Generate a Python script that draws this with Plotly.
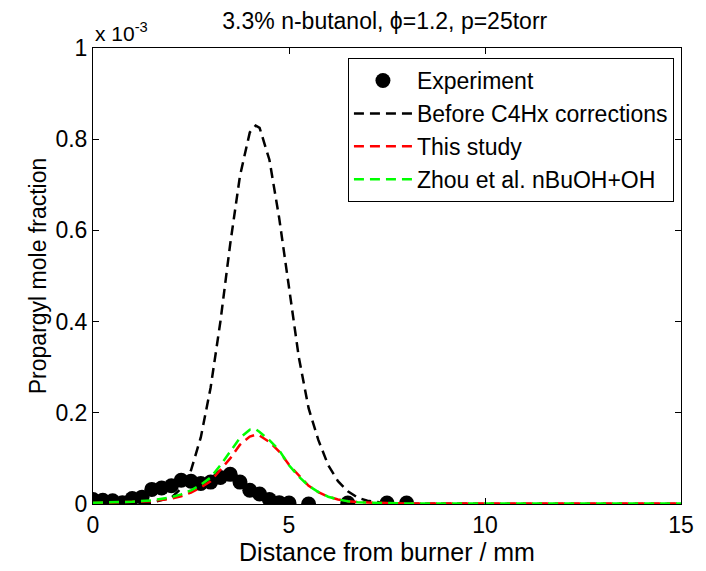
import plotly.graph_objects as go

# Experimental data (distance in mm, mole fraction in units of 1e-3)
exp_x = [0, 0.25, 0.5, 0.75, 1.0, 1.25, 1.5, 1.75, 2.0, 2.25, 2.5, 2.75, 3.0, 3.25,
         3.5, 3.75, 4.0, 4.25, 4.5, 4.75, 5.0, 5.5, 6.5, 7.5, 8.0]
exp_y = [0.010, 0.008, 0.007, 0.003, 0.012, 0.015, 0.032, 0.035, 0.040, 0.052, 0.050,
         0.045, 0.048, 0.058, 0.065, 0.048, 0.030, 0.022, 0.010, 0.003, 0.002, 0.0,
         0.002, 0.002, 0.002]

# Model curves
mod_x = [0, 0.5, 1.0, 1.5, 2.0, 2.25, 2.5, 2.75, 3.0, 3.25, 3.5, 3.75, 4.0, 4.15,
         4.25, 4.5, 4.75, 5.0, 5.25, 5.5, 5.75, 6.0, 6.25, 6.5, 6.75, 7.0, 7.5,
         8.0, 9.0, 10.0, 11.0, 12.0, 13.0, 14.0, 15.0]
before_y = [0.0, 0.0, 0.0005, 0.003, 0.014, 0.034, 0.074, 0.146, 0.255, 0.40, 0.57,
            0.72, 0.815, 0.83, 0.825, 0.755, 0.627, 0.475, 0.322, 0.21, 0.14, 0.085,
            0.05, 0.028, 0.014, 0.007, 0.002, 0.0005, 0.0, 0.0, 0.0, 0.0, 0.0, 0.0, 0.0]
study_y = [0.002, 0.003, 0.004, 0.006, 0.012, 0.017, 0.025, 0.036, 0.050, 0.074,
           0.100, 0.130, 0.148, 0.152, 0.150, 0.136, 0.115, 0.086, 0.062, 0.040,
           0.026, 0.016, 0.010, 0.006, 0.004, 0.003, 0.002, 0.001, 0.001, 0.001,
           0.001, 0.001, 0.001, 0.001, 0.001]
zhou_y = [0.003, 0.004, 0.005, 0.008, 0.015, 0.021, 0.030, 0.042, 0.058, 0.085,
          0.115, 0.145, 0.163, 0.164, 0.158, 0.140, 0.118, 0.085, 0.060, 0.040,
          0.026, 0.016, 0.010, 0.006, 0.004, 0.003, 0.002, 0.001, 0.001, 0.001,
          0.001, 0.001, 0.001, 0.001, 0.001]

x_ticks = [0, 5, 10, 15]
y_ticks = [0, 0.2, 0.4, 0.6, 0.8, 1]
y_ticktext = ["0", "0.2", "0.4", "0.6", "0.8", "1"]

FONT = "Liberation Sans, Arial, sans-serif"
DASH = "10px,6px"

fig = go.Figure()
fig.add_trace(go.Scatter(x=exp_x, y=exp_y, mode="markers", name="Experiment",
                         marker=dict(color="black", size=15, symbol="circle")))
fig.add_trace(go.Scatter(x=mod_x, y=before_y, mode="lines", name="Before C4Hx corrections",
                         line=dict(color="black", width=2.5, dash=DASH)))
fig.add_trace(go.Scatter(x=mod_x, y=study_y, mode="lines", name="This study",
                         line=dict(color="red", width=2.5, dash=DASH)))
fig.add_trace(go.Scatter(x=mod_x, y=zhou_y, mode="lines", name="Zhou et al. nBuOH+OH",
                         line=dict(color="#00ff00", width=2.5, dash=DASH)))

axis_common = dict(showline=True, linecolor="black", linewidth=1, mirror="ticks",
                   ticks="inside", ticklen=6, tickcolor="black", showgrid=False,
                   zeroline=False, tickfont=dict(family=FONT, size=23, color="black"))

fig.update_layout(
    width=706, height=571,
    margin=dict(l=93, r=22, t=48, b=59),
    paper_bgcolor="white", plot_bgcolor="white",
    font=dict(family=FONT, color="black"),
    title=dict(text="3.3% n-butanol, \u03d5=1.2, p=25torr", x=0.545,
               xanchor="center", y=1 - 21 / 571, yanchor="middle",
               font=dict(family=FONT, size=23, color="black")),
    xaxis=dict(range=[0, 15], tickvals=x_ticks, ticktext=[str(v) for v in x_ticks],
               title=dict(text="Distance from burner / mm",
                          font=dict(family=FONT, size=25, color="black"), standoff=4),
               **axis_common),
    yaxis=dict(range=[0, 1], tickvals=y_ticks, ticktext=y_ticktext,
               title=dict(text="Propargyl mole fraction",
                          font=dict(family=FONT, size=23, color="black"), standoff=2),
               **axis_common),
    legend=dict(x=0.988, y=0.978, xanchor="right", yanchor="top",
                bgcolor="white", bordercolor="black", borderwidth=1,
                font=dict(family=FONT, size=23, color="black"),
                tracegroupgap=0, itemwidth=58),
    showlegend=True,
)

fig.add_annotation(text="x 10<sup>-3</sup>", xref="paper", yref="paper",
                   x=0.0, y=1.0, xanchor="left", yanchor="bottom", showarrow=False,
                   font=dict(family=FONT, size=21, color="black"), yshift=1)

fig.write_html("out.html")
